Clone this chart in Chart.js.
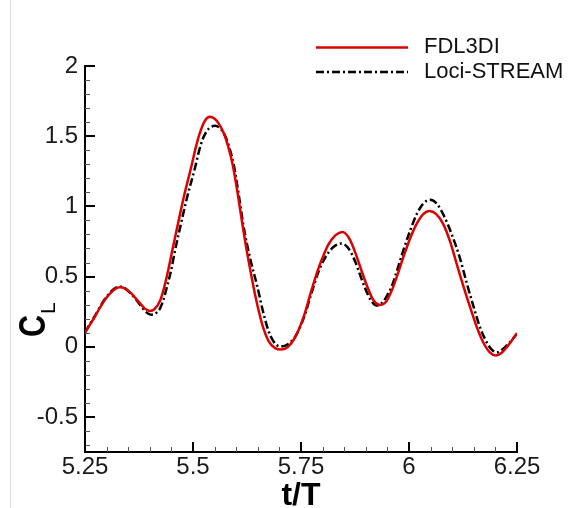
<!DOCTYPE html>
<html>
<head>
<meta charset="utf-8">
<script src="https://cdn.jsdelivr.net/npm/chart.js@4"></script>
<style>
  html, body { margin: 0; padding: 0; background: #fff; }
  #wrap { position: relative; width: 573px; height: 508px; }
  #edge { position: absolute; left: 10px; top: 0; width: 1px; height: 508px; background: #dcdcdc; }
  canvas { position: absolute; left: 0; top: 0; }
</style>
</head>
<body>
<div id="wrap">
  <div id="edge"></div>
  <canvas id="c" width="573" height="508"></canvas>
</div>
<script>
// Lift coefficient history over one flapping period
const tFDL = [5.250, 5.262, 5.273, 5.285, 5.296, 5.310, 5.320, 5.331, 5.342, 5.355, 5.366, 5.380,
              5.390, 5.400, 5.410, 5.424, 5.433, 5.443, 5.452, 5.461, 5.479, 5.497, 5.506, 5.515,
              5.527, 5.539, 5.550, 5.560, 5.572, 5.582, 5.592, 5.603, 5.614, 5.627, 5.640, 5.651,
              5.663, 5.675, 5.690, 5.705, 5.720, 5.733, 5.744, 5.758, 5.774, 5.790, 5.802, 5.813,
              5.830, 5.846, 5.861, 5.875, 5.888, 5.902, 5.917, 5.933, 5.947, 5.960, 5.973, 5.987,
              6.003, 6.018, 6.033, 6.047, 6.063, 6.079, 6.095, 6.110, 6.126, 6.141, 6.157, 6.172,
              6.187, 6.201, 6.214, 6.226, 6.238, 6.250];
const clFDL = [0.100, 0.160, 0.215, 0.280, 0.335, 0.385, 0.412, 0.423, 0.415, 0.385, 0.350, 0.300,
               0.268, 0.255, 0.265, 0.330, 0.420, 0.550, 0.685, 0.815, 1.070, 1.295, 1.415, 1.515,
               1.608, 1.638, 1.624, 1.588, 1.515, 1.420, 1.295, 1.100, 0.880, 0.640, 0.428, 0.270,
               0.130, 0.040, -0.010, -0.020, 0.000, 0.050, 0.115, 0.230, 0.400, 0.555, 0.650, 0.725,
               0.795, 0.818, 0.775, 0.676, 0.560, 0.440, 0.335, 0.298, 0.320, 0.400, 0.510, 0.640,
               0.775, 0.877, 0.945, 0.967, 0.945, 0.875, 0.750, 0.594, 0.430, 0.286, 0.140, 0.030,
               -0.040, -0.062, -0.045, -0.005, 0.045, 0.097];

const tLoci = [5.250, 5.262, 5.273, 5.285, 5.296, 5.310, 5.320, 5.331, 5.342, 5.355, 5.366, 5.380,
               5.392, 5.403, 5.414, 5.424, 5.432, 5.440, 5.449, 5.458, 5.468, 5.486, 5.505, 5.514,
               5.524, 5.537, 5.551, 5.563, 5.574, 5.585, 5.595, 5.606, 5.618, 5.633, 5.649, 5.661,
               5.674, 5.687, 5.701, 5.715, 5.728, 5.740, 5.758, 5.774, 5.790, 5.805, 5.825, 5.844,
               5.860, 5.875, 5.887, 5.898, 5.912, 5.925, 5.940, 5.953, 5.960, 5.973, 5.987, 6.003,
               6.018, 6.033, 6.049, 6.064, 6.079, 6.099, 6.118, 6.134, 6.149, 6.163, 6.176, 6.190,
               6.203, 6.216, 6.230, 6.240, 6.250];
const clLoci = [0.100, 0.165, 0.220, 0.285, 0.340, 0.392, 0.418, 0.428, 0.418, 0.382, 0.345, 0.288,
                0.245, 0.228, 0.238, 0.275, 0.340, 0.430, 0.540, 0.680, 0.820, 1.060, 1.279, 1.395,
                1.490, 1.555, 1.574, 1.555, 1.505, 1.410, 1.285, 1.080, 0.840, 0.620, 0.428, 0.265,
                0.120, 0.035, 0.002, 0.010, 0.040, 0.090, 0.220, 0.380, 0.530, 0.630, 0.710, 0.735,
                0.700, 0.610, 0.510, 0.420, 0.330, 0.293, 0.320, 0.385, 0.430, 0.550, 0.688, 0.830,
                0.945, 1.020, 1.047, 1.020, 0.945, 0.800, 0.630, 0.450, 0.290, 0.150, 0.055, -0.015,
                -0.040, -0.020, 0.020, 0.055, 0.092];

const seriesNames = ['FDL3DI', 'Loci-STREAM'];
const xTicks = [5.25, 5.5, 5.75, 6, 6.25];
const yTicks = [-0.5, 0, 0.5, 1, 1.5, 2];
const xRange = [5.25, 6.25];
const yRange = [-0.75, 2];

const pts = (xs, ys) => xs.map((x, i) => ({ x: x, y: ys[i] }));

// Inward major/minor ticks, legend and axis titles
const decor = {
  id: 'decor',
  afterDraw(chart) {
    const ctx = chart.ctx;
    const xs = chart.scales.x, ys = chart.scales.y;
    const area = chart.chartArea;
    ctx.save();
    ctx.setLineDash([]);
    // x minor ticks every 0.05, y minor every 0.1
    ctx.lineWidth = 1;
    ctx.strokeStyle = '#555';
    for (let k = 0; k <= 20; k++) {
      const v = xRange[0] + k * 0.05;
      const px = Math.round(xs.getPixelForValue(v)) + 0.5;
      ctx.beginPath(); ctx.moveTo(px, area.bottom); ctx.lineTo(px, area.bottom - 5); ctx.stroke();
    }
    for (let k = 0; k <= 27; k++) {
      const v = yRange[0] + 0.05 + k * 0.1;
      if (v > yRange[1] + 1e-9) break;
      const py = Math.round(ys.getPixelForValue(v)) + 0.5;
      ctx.beginPath(); ctx.moveTo(area.left, py); ctx.lineTo(area.left + 5, py); ctx.stroke();
    }
    ctx.strokeStyle = '#000';
    ctx.lineWidth = 2;
    xTicks.forEach(v => {
      const px = Math.round(xs.getPixelForValue(v));
      ctx.beginPath(); ctx.moveTo(px, area.bottom); ctx.lineTo(px, area.bottom - 10); ctx.stroke();
    });
    yTicks.forEach(v => {
      const py = Math.round(ys.getPixelForValue(v));
      ctx.beginPath(); ctx.moveTo(area.left, py); ctx.lineTo(area.left + 10, py); ctx.stroke();
    });

    // legend
    const rows = [47.5, 72];
    chart.data.datasets.forEach((ds, i) => {
      ctx.strokeStyle = ds.borderColor;
      ctx.lineWidth = ds.borderWidth;
      ctx.setLineDash(ds.borderDash || []);
      ctx.beginPath(); ctx.moveTo(316, rows[i]); ctx.lineTo(408, rows[i]); ctx.stroke();
      ctx.setLineDash([]);
      ctx.fillStyle = '#111';
      ctx.font = '22px "Liberation Sans", Arial, sans-serif';
      ctx.textAlign = 'left';
      ctx.textBaseline = 'middle';
      ctx.fillText(ds.label, 424, rows[i] - 0.5);
    });

    // x title
    ctx.fillStyle = '#000';
    ctx.font = 'bold 32px "Liberation Sans", Arial, sans-serif';
    ctx.textAlign = 'center';
    ctx.textBaseline = 'alphabetic';
    ctx.fillText('t/T', (area.left + area.right) / 2, 505);

    // y title C with subscript L
    ctx.translate(45, 337);
    ctx.rotate(-Math.PI / 2);
    ctx.textAlign = 'left';
    ctx.save();
    ctx.scale(0.85, 1);
    ctx.font = 'bold 36px "Liberation Sans", Arial, sans-serif';
    ctx.fillText('C', 0, 0);
    const cw = ctx.measureText('C').width * 0.85;
    ctx.restore();
    ctx.font = '21px "Liberation Sans", Arial, sans-serif';
    ctx.fillText('L', cw + 1, 10);
    ctx.restore();
  }
};

new Chart(document.getElementById('c'), {
  type: 'line',
  data: {
    datasets: [
      {
        label: seriesNames[0],
        data: pts(tFDL, clFDL),
        borderColor: '#dd0000',
        borderWidth: 2.5,
        pointRadius: 0,
        fill: false,
        cubicInterpolationMode: 'monotone'
      },
      {
        label: seriesNames[1],
        data: pts(tLoci, clLoci),
        borderColor: '#000000',
        borderWidth: 2.5,
        borderDash: [8, 3, 2, 3],
        pointRadius: 0,
        fill: false,
        cubicInterpolationMode: 'monotone'
      }
    ]
  },
  options: {
    responsive: false,
    animation: false,
    events: [],
    layout: { padding: { left: 0, top: 66, right: 56, bottom: 0 } },
    plugins: { legend: { display: false }, tooltip: { enabled: false } },
    scales: {
      x: {
        type: 'linear',
        min: xRange[0], max: xRange[1],
        afterBuildTicks: s => { s.ticks = xTicks.map(v => ({ value: v })); },
        afterFit: s => { s.height = 56; },
        grid: { display: true, drawOnChartArea: false, drawTicks: false },
        border: { display: true, color: '#000', width: 2 },
        ticks: {
          padding: 1,
          maxRotation: 0,
          autoSkip: false,
          color: '#1a1a1a',
          font: { family: '"Liberation Sans", Arial, sans-serif', size: 24 },
          callback: v => String(v)
        }
      },
      y: {
        type: 'linear',
        min: yRange[0], max: yRange[1],
        afterBuildTicks: s => { s.ticks = yTicks.map(v => ({ value: v })); },
        afterFit: s => { s.width = 85; },
        grid: { display: true, drawOnChartArea: false, drawTicks: false },
        border: { display: true, color: '#000', width: 2 },
        ticks: {
          padding: 7,
          autoSkip: false,
          color: '#1a1a1a',
          font: { family: '"Liberation Sans", Arial, sans-serif', size: 24 },
          callback: v => String(v)
        }
      }
    }
  },
  plugins: [decor]
});
</script>
</body>
</html>
